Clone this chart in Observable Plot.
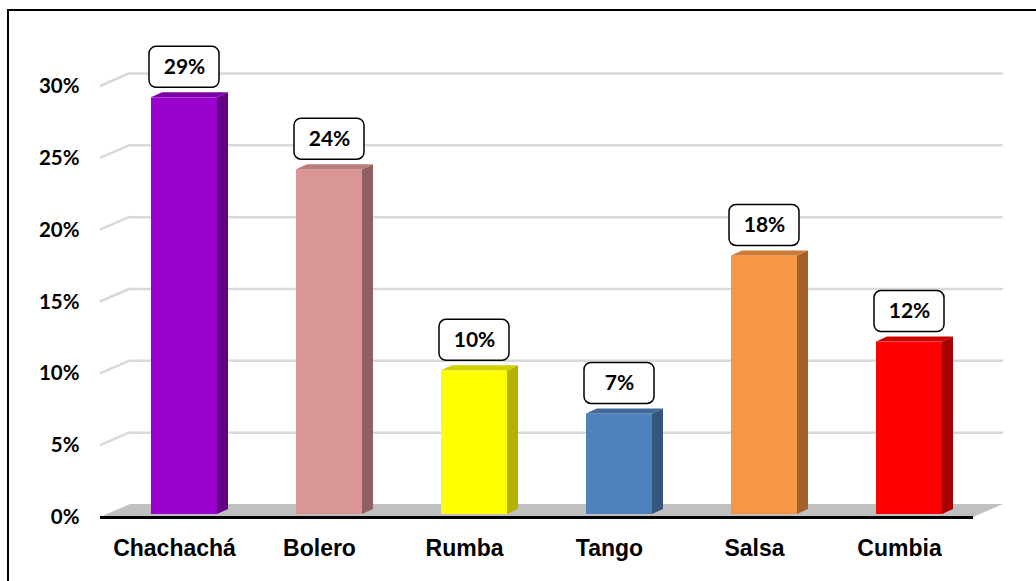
<!DOCTYPE html>
<html><head><meta charset="utf-8">
<script src="https://cdn.jsdelivr.net/npm/d3@7"></script>
<script src="https://cdn.jsdelivr.net/npm/@observablehq/plot@0.6"></script>
<style>
body{margin:0;background:#fff;}
#wrap{position:relative;width:1036px;height:581px;overflow:hidden;}
#frame{position:absolute;left:7px;top:9px;width:1060px;height:620px;border:2px solid #000;box-sizing:border-box;pointer-events:none;}
#wrap svg{display:block;}
[aria-label^="x-axis"] text{font-family:"Liberation Sans",Arial,sans-serif;font-weight:bold;font-size:23px;fill:#000;}
[aria-label^="y-axis"] text{font-family:Lato,"Liberation Sans",sans-serif;font-weight:bold;font-size:20.5px;fill:#000;}
</style></head><body><div id="wrap"><div id="frame"></div></div>
<script>
const categories = ["Chachachá", "Bolero", "Rumba", "Tango", "Salsa", "Cumbia"];
const values = [29, 24, 10, 7, 18, 12];
const frontColors = ["#9900cc", "#da9694", "#ffff00", "#4f81bd", "#f79646", "#ff0000"];
const sideColors = ["#640085", "#8e6160", "#b3b300", "#34557c", "#a1612d", "#a60000"];
const topColors = ["#7c00a6", "#b87d7b", "#d0d000", "#41699a", "#cf7b38", "#cc0000"];
const yTicks = [0, 5, 10, 15, 20, 25, 30];

const wall = {dx: 30, dy: -13};
const barShift = {dx: 10, dy: -3};
const barDepth = {dx: 11, dy: -5};
const labelOffset = -33.5;

const data = categories.map((c, i) => ({cat: c, val: values[i], front: frontColors[i], side: sideColors[i], top: topColors[i]}));

function walls(index, scales, vals, dim) {
  const {y} = scales;
  const g = d3.create("svg:g");
  const x0 = dim.marginLeft, x1 = dim.width - dim.marginRight;
  for (const t of yTicks) {
    if (t === 0) continue;
    g.append("line").attr("x1", x0).attr("y1", y(t)).attr("x2", x0 + wall.dx).attr("y2", y(t) + wall.dy)
      .attr("stroke", "#d9d9d9").attr("stroke-width", 2.5);
  }
  const yf = y(0);
  g.append("polygon")
    .attr("points", [[x0, yf], [x1, yf], [x1 + wall.dx, yf + wall.dy], [x0 + wall.dx, yf + wall.dy]].map(p => p.join(",")).join(" "))
    .attr("fill", "#c0c0c0");
  return g.node();
}

function bars3d(index, scales, vals, dim) {
  const {x, y} = scales;
  const bw = x.bandwidth();
  const g = d3.create("svg:g");
  for (const d of data) {
    const l = x(d.cat) + barShift.dx, r = l + bw;
    const t = y(d.val) + barShift.dy, b = y(0) + barShift.dy;
    g.append("polygon")
      .attr("points", [[r, t], [r + barDepth.dx, t + barDepth.dy], [r + barDepth.dx, b + barDepth.dy], [r, b]].map(p => p.join(",")).join(" "))
      .attr("fill", d.side);
    g.append("polygon")
      .attr("points", [[l, t], [r, t], [r + barDepth.dx, t + barDepth.dy], [l + barDepth.dx, t + barDepth.dy]].map(p => p.join(",")).join(" "))
      .attr("fill", d.top);
    const cx = l + bw / 2, cy = y(d.val) + labelOffset;
    g.append("rect").attr("x", cx - 35).attr("y", cy - 20.5).attr("width", 70).attr("height", 41)
      .attr("rx", 7).attr("ry", 7).attr("fill", "#fff").attr("stroke", "#000").attr("stroke-width", 1.5);
  }
  return g.node();
}

const chart = Plot.plot({
  width: 1036,
  height: 581,
  marginLeft: 100,
  marginRight: 63,
  marginTop: 86,
  marginBottom: 64,
  style: {background: "transparent", overflow: "visible"},
  x: {type: "band", domain: categories, paddingInner: 0.546, paddingOuter: 0.27, tickSize: 0, tickPadding: 22, label: null},
  y: {domain: [0, 30], ticks: yTicks, tickFormat: d => d + "%", tickSize: 0, tickPadding: 21, label: null},
  color: {type: "identity"},
  marks: [
    Plot.ruleY(yTicks.filter(t => t > 0), {dx: wall.dx, dy: wall.dy, stroke: "#d9d9d9", strokeWidth: 2.5}),
    walls,
    Plot.ruleY([0], {stroke: "#000", strokeWidth: 3}),
    Plot.barY(data, {x: "cat", y: "val", fill: "front", dx: barShift.dx, dy: barShift.dy}),
    bars3d,
    Plot.text(data, {x: "cat", y: "val", text: d => d.val + "%", dx: barShift.dx, dy: labelOffset,
      fontFamily: "Lato, sans-serif", fontWeight: "bold", fontSize: 21, fill: "#000"})
  ]
});
document.getElementById("wrap").prepend(chart);
</script>
</body></html>
